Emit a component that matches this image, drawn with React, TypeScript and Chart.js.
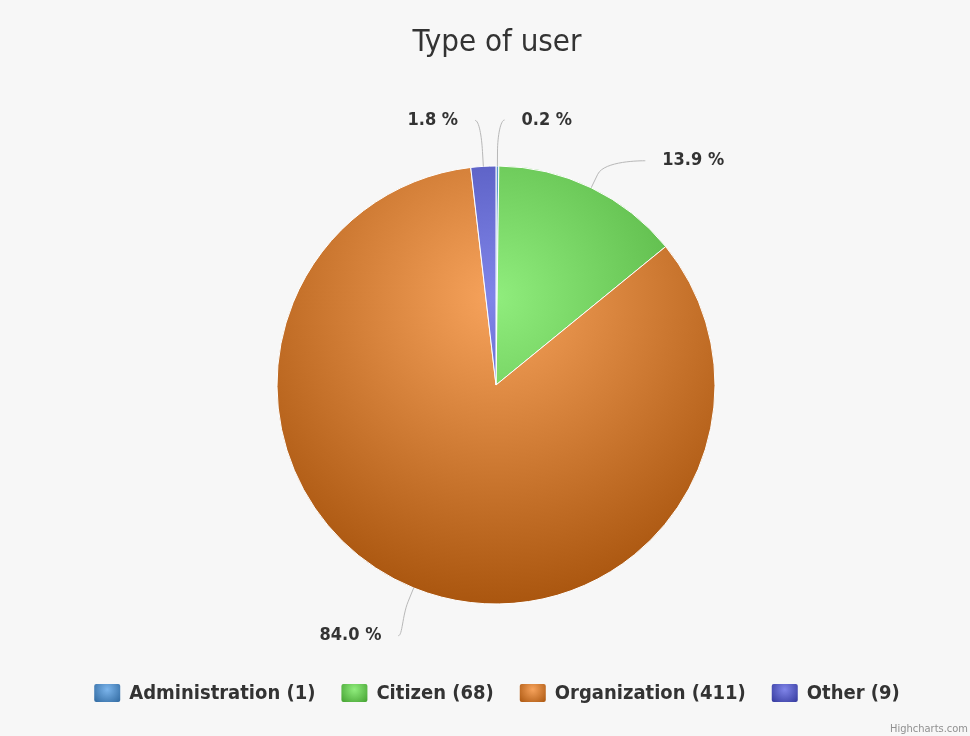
import { useEffect, useRef } from "react"
import { Chart, registerables } from "chart.js"

Chart.register(...registerables)

const chartTitle = "Type of user"
const categories = ["Administration", "Citizen", "Organization", "Other"]
const userCounts = [1, 68, 411, 9]
const sliceColors = ["#7cb5ec", "#90ed7d", "#f7a35c", "#8085e9"]
const creditText = "Highcharts.com"

const FONT = '"DejaVu Sans Condensed", "DejaVu Sans", sans-serif'
const BG = "#f7f7f7"
const TEXT = "#333333"

// highcharts style brighten(-0.3)
function darken(hex: string, amount = 0.3) {
    const n = parseInt(hex.slice(1), 16)
    const d = Math.round(255 * amount)
    const r = Math.max(0, ((n >> 16) & 255) - d)
    const g = Math.max(0, ((n >> 8) & 255) - d)
    const b = Math.max(0, (n & 255) - d)
    return `rgb(${r}, ${g}, ${b})`
}

function pieGeometry(chart: Chart) {
    const { left, right, top, bottom } = chart.chartArea
    const cx = (left + right) / 2
    const cy = (top + bottom) / 2
    const r = (Math.min(right - left, bottom - top) - 1) / 2
    return { cx, cy, r }
}

const decorations = {
    id: "highchartsLook",
    beforeDraw(chart: Chart) {
        const ctx = chart.ctx
        ctx.save()
        ctx.fillStyle = BG
        ctx.fillRect(0, 0, chart.width, chart.height)
        ctx.restore()
    },
    afterDraw(chart: Chart) {
        const ctx = chart.ctx
        const meta = chart.getDatasetMeta(0)
        const total = userCounts.reduce((a, b) => a + b, 0)
        const midX = 497

        ctx.save()

        // title
        ctx.fillStyle = TEXT
        ctx.font = `31px ${FONT}`
        ctx.textAlign = "center"
        ctx.textBaseline = "alphabetic"
        ctx.fillText(chartTitle, midX, 51)

        // data labels with soft connectors
        ctx.font = `bold 18px ${FONT}`
        ctx.textBaseline = "middle"
        meta.data.forEach((el: any, i: number) => {
            const { x, y, outerRadius: r, startAngle, endAngle } = el.getProps(
                ["x", "y", "outerRadius", "startAngle", "endAngle"],
                true
            )
            const mid = (startAngle + endAngle) / 2
            const ux = Math.cos(mid)
            const uy = Math.sin(mid)
            const side = ux >= 0 ? 1 : -1

            let ly = y + uy * (r + 30)
            let offset: number
            if (Math.abs(uy) > 0.92) {
                // labels pushed past the label ring near top / bottom
                ly += uy > 0 ? 20 : -16
                offset = Math.abs(ux) * (r + 22) + 24
            } else {
                const dy = ly - y
                const rl = r + 45
                offset = Math.sqrt(Math.max(0, rl * rl - dy * dy)) + 27
            }
            const lx = x + side * offset

            const edgeX = x + ux * r
            const edgeY = y + uy * r
            const c2x = x + ux * (r + 15)
            const c2y = y + uy * (r + 15)
            const sx = lx - side * 17

            ctx.strokeStyle = "#b8b8b8"
            ctx.lineWidth = 1
            ctx.beginPath()
            ctx.moveTo(sx, ly)
            ctx.bezierCurveTo(sx - side * 4, ly, 2 * c2x - edgeX, 2 * c2y - edgeY, c2x, c2y)
            ctx.lineTo(edgeX, edgeY)
            ctx.stroke()

            ctx.fillStyle = TEXT
            ctx.textAlign = side > 0 ? "left" : "right"
            ctx.fillText(((userCounts[i] / total) * 100).toFixed(1) + " %", lx, ly)
        })

        // legend
        const swW = 26
        const swH = 18
        const swGap = 9
        const itemGap = 26
        ctx.font = `bold 20px ${FONT}`
        const labels = categories.map((c, i) => `${c} (${userCounts[i]})`)
        const widths = labels.map((t) => ctx.measureText(t).width)
        const totalW =
            widths.reduce((a, b) => a + b + swW + swGap, 0) + itemGap * (labels.length - 1)
        let lx = midX - totalW / 2
        const legendY = 684
        labels.forEach((t, i) => {
            const g = ctx.createRadialGradient(
                lx + swW / 2, legendY + swH * 0.3, 0,
                lx + swW / 2, legendY + swH * 0.3, swW * 0.7
            )
            g.addColorStop(0, sliceColors[i])
            g.addColorStop(1, darken(sliceColors[i]))
            ctx.fillStyle = g
            ctx.beginPath()
            ctx.roundRect(lx, legendY, swW, swH, 2)
            ctx.fill()
            ctx.fillStyle = TEXT
            ctx.textAlign = "left"
            ctx.textBaseline = "middle"
            ctx.fillText(t, lx + swW + swGap, legendY + swH / 2 + 1)
            lx += swW + swGap + widths[i] + itemGap
        })

        // credits
        ctx.font = `11px ${FONT}`
        ctx.fillStyle = "#909090"
        ctx.textAlign = "right"
        ctx.textBaseline = "alphabetic"
        ctx.fillText(creditText, 968, 732)

        ctx.restore()
    },
}

function UserTypePie() {
    const canvasRef = useRef<HTMLCanvasElement>(null)
    const chartRef = useRef<Chart | null>(null)

    useEffect(() => {
        if (!canvasRef.current) return
        if (chartRef.current) chartRef.current.destroy()

        chartRef.current = new Chart(canvasRef.current, {
            type: "pie",
            data: {
                labels: categories,
                datasets: [
                    {
                        data: userCounts,
                        backgroundColor: (c: any) => {
                            const chart = c.chart as Chart
                            if (!chart.chartArea) return sliceColors[c.dataIndex]
                            const { cx, cy, r } = pieGeometry(chart)
                            // radial gradient centred at 30% of the pie box, radius 0.7 * diameter
                            const g = chart.ctx.createRadialGradient(
                                cx, cy - 0.4 * r, 0,
                                cx, cy - 0.4 * r, 1.4 * r
                            )
                            g.addColorStop(0, sliceColors[c.dataIndex])
                            g.addColorStop(1, darken(sliceColors[c.dataIndex]))
                            return g
                        },
                        borderColor: "#ffffff",
                        borderWidth: 1,
                    },
                ],
            },
            options: {
                responsive: true,
                maintainAspectRatio: false,
                animation: false,
                layout: {
                    padding: { left: 276.5, right: 254.5, top: 165.5, bottom: 131.5 },
                },
                plugins: {
                    legend: { display: false },
                    title: { display: false },
                    tooltip: { enabled: false },
                },
            },
            plugins: [decorations],
        })

        return () => {
            if (chartRef.current) {
                chartRef.current.destroy()
                chartRef.current = null
            }
        }
    }, [])

    return (
        <div style={{ position: "absolute", left: 0, top: 0, width: 970, height: 736, background: BG }}>
            <canvas ref={canvasRef} />
        </div>
    )
}

export default function App() {
    return <UserTypePie />
}
